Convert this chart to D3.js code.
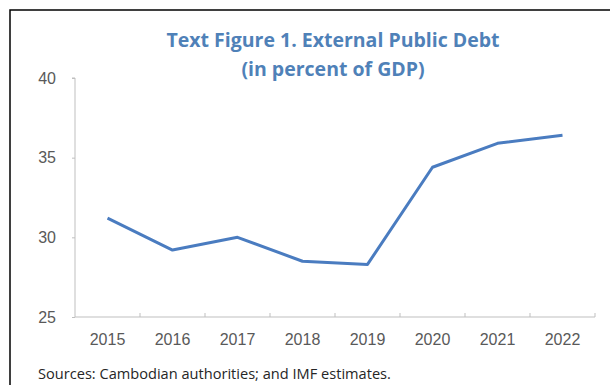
<!DOCTYPE html>
<html>
<head>
<meta charset="utf-8">
<script src="https://cdn.jsdelivr.net/npm/d3@7"></script>
<style>
  body { margin: 0; background: #fff; }
  svg { display: block; font-family: "Open Sans", "Noto Sans", sans-serif; }
</style>
</head>
<body>
<svg id="chart"></svg>
<script>
// Chart data
const years = ["2015", "2016", "2017", "2018", "2019", "2020", "2021", "2022"];
const debt = [31.2, 29.2, 30.0, 28.5, 28.3, 34.4, 35.9, 36.4];
const yTicks = [25, 30, 35, 40];

const width = 610, height = 385;
const margin = {top: 78, right: 15, bottom: 68, left: 75};

const svg = d3.select("#chart")
              .attr("width", width)
              .attr("height", height);

// Frame (left and top edges only)
svg.append("path")
   .attr("d", `M10,${height} V10 H${width}`)
   .attr("fill", "none")
   .attr("stroke", "#000")
   .attr("stroke-width", 1.5);

const x = d3.scaleBand()
            .domain(years)
            .range([margin.left, width - margin.right]);

const y = d3.scaleLinear()
            .domain([25, 40])
            .range([height - margin.bottom, margin.top]);

// Y axis
const yAxis = svg.append("g")
   .attr("transform", `translate(${margin.left},0)`)
   .call(d3.axisLeft(y).tickValues(yTicks).tickSize(3).tickPadding(16));
yAxis.select(".domain").attr("stroke", "#bfbfbf").attr("d", `M-3,${y(40)}H0V${y(25)}`);
yAxis.selectAll(".tick line").attr("stroke", "#bfbfbf");
yAxis.selectAll(".tick text").attr("fill", "#595959").style("font-size", "16px");

// X axis with ticks at category boundaries
const xAxis = svg.append("g")
   .attr("transform", `translate(0,${y(25)})`)
   .call(d3.axisBottom(x).tickSize(0).tickPadding(17));
xAxis.select(".domain").attr("stroke", "#bfbfbf")
     .attr("d", `M${margin.left},0H${width - margin.right}V-4`);
xAxis.selectAll(".tick text").attr("fill", "#595959").style("font-size", "16px");
xAxis.selectAll(".bound")
     .data(years.slice(1))
     .enter().append("line")
     .attr("x1", d => x(d)).attr("x2", d => x(d))
     .attr("y1", 0).attr("y2", -4)
     .attr("stroke", "#bfbfbf");

// Line
const line = d3.line()
               .x((d, i) => x(years[i]) + x.bandwidth() / 2)
               .y(d => y(d));

svg.append("path")
   .datum(debt)
   .attr("d", line)
   .attr("fill", "none")
   .attr("stroke", "#4a7cc0")
   .attr("stroke-width", 3)
   .attr("stroke-linejoin", "round");

// Title
svg.append("text")
   .attr("x", 333).attr("y", 47)
   .attr("text-anchor", "middle")
   .attr("fill", "#4f81b8")
   .style("font-size", "19.5px").style("font-weight", "bold")
   .text("Text Figure 1. External Public Debt");
svg.append("text")
   .attr("x", 333).attr("y", 76)
   .attr("text-anchor", "middle")
   .attr("fill", "#4f81b8")
   .style("font-size", "19.5px").style("font-weight", "bold")
   .text("(in percent of GDP)");

// Source note
svg.append("text")
   .attr("x", 38).attr("y", 379)
   .attr("fill", "#262626")
   .style("font-size", "14.6px")
   .text("Sources: Cambodian authorities; and IMF estimates.");
</script>
</body>
</html>
